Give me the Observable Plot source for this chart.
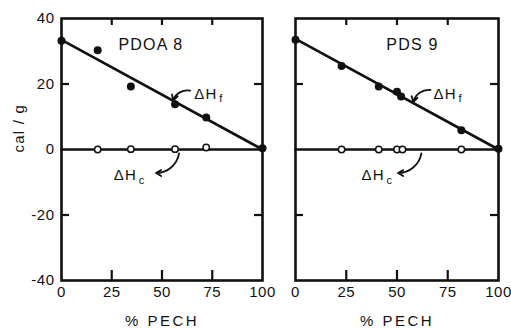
<!DOCTYPE html>
<html><head><meta charset="utf-8">
<script src="https://cdn.jsdelivr.net/npm/d3@7"></script>
<script src="https://cdn.jsdelivr.net/npm/@observablehq/plot@0.6"></script>
<style>
body{margin:0;background:#fff}
#chart{position:relative;width:511px;height:329px;overflow:hidden}
#chart > svg{position:absolute;top:0}
svg{font-family:"Liberation Sans",Arial,sans-serif;overflow:visible}
svg text{letter-spacing:1.2px}
</style>
</head><body><div id="chart"></div>
<script>
// Panels
const panels = ["PDOA 8", "PDS 9"];
// PDOA 8: heat of fusion (filled) and crystallization (open)
const pechPDOA_f = [0, 18, 34.5, 56.5, 72, 100];
const hfPDOA = [33.2, 30.3, 19.2, 13.8, 9.8, 0.4];
const pechPDOA_c = [18, 34.5, 56.5, 72];
const hcPDOA = [0, 0.1, 0.1, 0.6];
// PDS 9
const pechPDS_f = [0, 22.7, 41, 50, 52, 81.7, 100];
const hfPDS = [33.5, 25.5, 19.2, 17.6, 16.2, 5.9, 0.2];
const pechPDS_c = [22.7, 41, 50, 52.7, 81.7];
const hcPDS = [0, 0, 0, 0, 0];
// fitted lines
const fitPech = [0, 100];
const fitHfPDOA = [33.5, 0];
const fitHfPDS = [33.8, 0];
const fitHc = [0, 0];
// ticks
const xTicks = [0, 25, 50, 75, 100];
const yTicks = [-40, -20, 0, 20, 40];
const innerXTicks = [25, 50, 75];
const innerYTicks = [-20, 20];

const ink = "#111";
const xDom = [0, 100], yDom = [-40, 40];
const H = 329, mTop = 18, mBottom = 49;
const frameH = H - mTop - mBottom;
const pts = (xs, ys) => xs.map((x, i) => ({x, y: ys[i]}));

function panel({title, titleX, fx, fy, cx, cy, fitHf, left, width, mLeft, mRight, showY, hfLab, hcLab, hfArr, hcArr}) {
  const bandW = width - mLeft - mRight;
  const ux = (xDom[1] - xDom[0]) / bandW, uy = (yDom[1] - yDom[0]) / frameH;
  const marks = [
    Plot.frame({stroke: ink, strokeWidth: 2.6, fill: "none"}),
    Plot.axisX({ticks: xTicks, tickSize: 0, tickPadding: 6, tickFormat: d => String(d), label: null, fontSize: 15}),
    // inward ticks
    Plot.ruleX(innerXTicks, {x: d => d, y1: yDom[0], y2: yDom[0] + 10 * uy, stroke: ink, strokeWidth: 2.2}),
    Plot.ruleX(innerXTicks, {x: d => d, y1: yDom[1], y2: yDom[1] - 7 * uy, stroke: ink, strokeWidth: 2.2}),
    Plot.ruleY(innerYTicks, {y: d => d, x1: xDom[0], x2: xDom[0] + 8 * ux, stroke: ink, strokeWidth: 2.2}),
    Plot.ruleY(innerYTicks, {y: d => d, x1: xDom[1], x2: xDom[1] - 8 * ux, stroke: ink, strokeWidth: 2.2}),
    Plot.line(pts(fitPech, fitHc), {x: "x", y: "y", stroke: ink, strokeWidth: 2.6}),
    Plot.line(pts(fitPech, fitHf), {x: "x", y: "y", stroke: ink, strokeWidth: 2.6}),
    Plot.dot(pts(fx, fy), {x: "x", y: "y", r: 4, fill: ink}),
    Plot.dot(pts(cx, cy), {x: "x", y: "y", r: 3.2, fill: "#fff", stroke: ink, strokeWidth: 1.5}),
    Plot.text([title], {x: titleX, y: 31.8, text: d => d, fontSize: 16, fill: ink}),
    Plot.text([hfLab], {x: "x", y: "y", text: () => "ΔH", textAnchor: "start", fontSize: 15, fill: ink}),
    Plot.text([hfLab], {x: "x", y: "y", text: () => "f", textAnchor: "start", fontSize: 11, dx: 25, dy: 5, fill: ink}),
    Plot.text([hcLab], {x: "x", y: "y", text: () => "ΔH", textAnchor: "start", fontSize: 15, fill: ink}),
    Plot.text([hcLab], {x: "x", y: "y", text: () => "c", textAnchor: "start", fontSize: 11, dx: 25, dy: 5, fill: ink}),
    Plot.arrow([hfArr], {x1: "x1", y1: "y1", x2: "x2", y2: "y2", bend: -40, headLength: 5, strokeWidth: 1.8, stroke: ink}),
    Plot.arrow([hcArr], {x1: "x1", y1: "y1", x2: "x2", y2: "y2", bend: 40, headLength: 5, strokeWidth: 1.8, stroke: ink}),
    Plot.text(["% PECH"], {text: d => d, frameAnchor: "bottom", lineAnchor: "middle", dy: 41, fontSize: 15, fill: ink})
  ];
  if (showY) {
    marks.push(Plot.axisY({anchor: "left", ticks: yTicks, tickSize: 0, tickPadding: 7, tickFormat: d => d < 0 ? "-" + (-d) : String(d), label: null, fontSize: 15}));
    marks.push(Plot.text(["cal / g"], {text: d => d, frameAnchor: "left", rotate: -90, dx: -42, dy: 3, fontSize: 15, fill: ink}));
  } else {
    marks.push(Plot.axisY({anchor: "left", ticks: [], label: null}));
  }
  const svg = Plot.plot({
    width, height: H,
    marginLeft: mLeft, marginRight: mRight, marginTop: mTop, marginBottom: mBottom,
    style: {fontSize: "15px", color: ink, background: "transparent"},
    x: {domain: xDom},
    y: {domain: yDom},
    marks
  });
  svg.style.left = left + "px";
  return svg;
}

const root = document.getElementById("chart");
root.appendChild(panel({
  title: panels[0], titleX: 44.5, fx: pechPDOA_f, fy: hfPDOA, cx: pechPDOA_c, cy: hcPDOA, fitHf: fitHfPDOA,
  left: 0, width: 278, mLeft: 61, mRight: 16, showY: true,
  hfLab: {x: 66, y: 17}, hcLab: {x: 26, y: -7.8},
  hfArr: {x1: 64, y1: 18, x2: 55.5, y2: 15}, hcArr: {x1: 58.5, y1: -1.2, x2: 47, y2: -7.2}
}));
root.appendChild(panel({
  title: panels[1], titleX: 57.6, fx: pechPDS_f, fy: hfPDS, cx: pechPDS_c, cy: hcPDS, fitHf: fitHfPDS,
  left: 278, width: 233, mLeft: 17, mRight: 13, showY: false,
  hfLab: {x: 68, y: 17}, hcLab: {x: 32.5, y: -7.8},
  hfArr: {x1: 66.5, y1: 18.2, x2: 58, y2: 14.5}, hcArr: {x1: 62, y1: -1.2, x2: 50.5, y2: -7.2}
}));
const sel = d3.select(root).selectAll("text");
sel.filter(function(){ return this.textContent === "% PECH"; }).style("letter-spacing", "2.5px");
sel.filter(function(){ return /^-?\d+$/.test(this.textContent); }).style("letter-spacing", "0.5px");
</script>
</body></html>
